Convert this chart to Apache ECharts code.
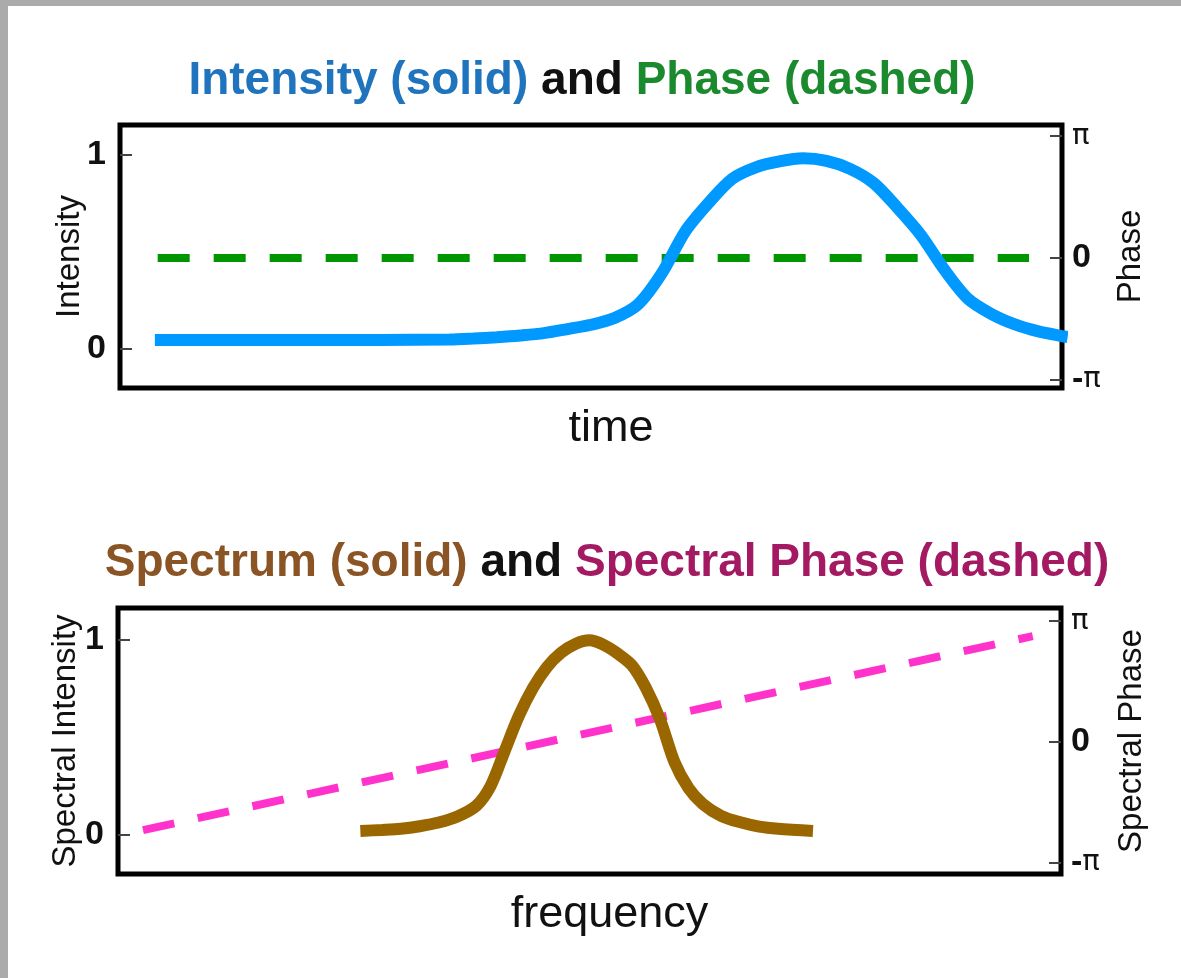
<!DOCTYPE html>
<html>
<head>
<meta charset="utf-8">
<title>Intensity and Phase / Spectrum and Spectral Phase</title>
<script src="https://cdn.jsdelivr.net/npm/echarts@6/dist/echarts.min.js"></script>
<style>
  html, body { margin: 0; padding: 0; background: #ababab; }
  #chart { width: 1181px; height: 978px; }
</style>
</head>
<body>
<div id="chart"></div>
<script>
// Temporal intensity (solid) — time in arbitrary units 0..100
const timeValues = [3.7, 20, 35, 37.5, 40, 42.5, 45, 47.5, 50, 52.5, 55, 57.5, 60, 62.5, 65, 67.5,
  70, 72.5, 75, 77.5, 80, 82.5, 85, 87.5, 90, 92.5, 95, 97.5, 100, 100.6];
const intensityValues = [0.046, 0.046, 0.049, 0.054, 0.061, 0.07, 0.082, 0.103, 0.125, 0.16, 0.23, 0.389, 0.606, 0.754, 0.878, 0.937,
  0.967, 0.983, 0.97, 0.929, 0.856, 0.73, 0.589, 0.41, 0.26, 0.181, 0.127, 0.091, 0.067, 0.062];

// Temporal phase (dashed): flat
const phaseTimes = [4.0, 96.5];
const phaseValues = [0, 0];

// Spectrum (solid) — frequency in arbitrary units 0..100
const freqValues = [25.7, 28, 30, 32, 34, 36, 38, 39.5, 41, 42.5, 44, 45.5, 47, 48.5, 50, 51.5,
  53, 54.5, 56, 57.5, 59, 60.5, 62, 64, 66, 68, 70, 73.7];
const spectrumValues = [0.021, 0.026, 0.032, 0.045, 0.064, 0.095, 0.15, 0.25, 0.43, 0.61, 0.754, 0.862, 0.935, 0.98, 0.998, 0.975,
  0.93, 0.87, 0.752, 0.59, 0.375, 0.24, 0.16, 0.097, 0.065, 0.043, 0.032, 0.021];

// Spectral phase (dashed): linear in frequency
const spectralPhaseFreqs = [2.65, 97.0];
const spectralPhaseValues = [-2.29, 2.75];

// Tick labels
const intensityTicks = [0, 1];
const phaseTicks = [-Math.PI, 0, Math.PI];

const zip = (xs, ys) => xs.map((x, i) => [x, ys[i]]);

const FONT = '"Liberation Sans", Arial, Helvetica, sans-serif';

function phaseLabel(v) {
  if (Math.abs(v) < 1e-9) return '{b|0}';
  return v > 0 ? '{p|π}' : '{b|-}{p|π}';
}

const leftAxisBase = {
  type: 'value',
  position: 'left',
  axisLine: { show: false },
  splitLine: { show: false },
  axisTick: { show: true, inside: true, length: 12, customValues: intensityTicks,
    lineStyle: { color: '#444', width: 2 } },
  axisLabel: { show: true, customValues: intensityTicks, margin: 14,
    fontFamily: FONT, fontWeight: 'bold', fontSize: 34, color: '#111' },
  nameLocation: 'middle',
  nameMoveOverlap: false,
  nameTextStyle: { fontFamily: FONT, fontSize: 33, color: '#111' }
};

const rightAxisBase = {
  type: 'value',
  position: 'right',
  axisLine: { show: false },
  splitLine: { show: false },
  axisTick: { show: true, inside: true, length: 12, customValues: phaseTicks,
    lineStyle: { color: '#444', width: 2 } },
  axisLabel: { show: true, customValues: phaseTicks, margin: 10,
    formatter: phaseLabel,
    rich: {
      b: { fontFamily: FONT, fontWeight: 'bold', fontSize: 34, color: '#111' },
      p: { fontFamily: '"DejaVu Sans", sans-serif', fontSize: 29, color: '#111' }
    } },
  nameLocation: 'middle',
  nameMoveOverlap: false,
  nameTextStyle: { fontFamily: FONT, fontSize: 33, color: '#111' }
};

const xAxisBase = {
  type: 'value',
  min: 0,
  max: 100,
  axisLine: { show: false },
  axisTick: { show: false },
  axisLabel: { show: false },
  splitLine: { show: false },
  nameLocation: 'middle',
  nameGap: 18,
  nameTextStyle: { fontFamily: FONT, fontSize: 45, color: '#111', verticalAlign: 'top',
    padding: [0, 0, 0, 40] }
};

const gridBase = { show: true, borderWidth: 5, borderColor: '#000', backgroundColor: '#fff' };

function titleRich(c1, c2) {
  const s = { fontFamily: FONT, fontWeight: 'bold', fontSize: 46 };
  return {
    a: Object.assign({ color: c1 }, s),
    k: Object.assign({ color: '#111' }, s),
    c: Object.assign({ color: c2 }, s)
  };
}

const option = {
  backgroundColor: '#ababab',
  animation: false,
  graphic: [{
    type: 'rect', z: -10, silent: true,
    shape: { x: 8, y: 6, width: 1173, height: 972 },
    style: { fill: '#fff' }
  }],
  title: [{
    text: '{a|Intensity (solid) }{k|and }{c|Phase (dashed)}',
    left: 577, top: 53, textAlign: 'center',
    textStyle: { rich: titleRich('#1f74bd', '#1b8a2e') }
  }, {
    text: '{a|Spectrum (solid) }{k|and }{c|Spectral Phase (dashed)}',
    left: 602, top: 535, textAlign: 'center',
    textStyle: { rich: titleRich('#8a5424', '#a31a62') }
  }],
  grid: [
    Object.assign({ left: 120, right: 119, top: 125, height: 263 }, gridBase),
    Object.assign({ left: 118, right: 120, top: 608, height: 266 }, gridBase)
  ],
  xAxis: [
    Object.assign({}, xAxisBase, { gridIndex: 0, name: 'time' }),
    Object.assign({}, xAxisBase, { gridIndex: 1, name: 'frequency' })
  ],
  yAxis: [
    Object.assign({}, leftAxisBase, { gridIndex: 0, min: -0.201, max: 1.155, name: 'Intensity', nameGap: 34 }),
    Object.assign({}, rightAxisBase, { gridIndex: 0, min: -3.351, max: 3.428, name: 'Phase', nameGap: 52 }),
    Object.assign({}, leftAxisBase, { gridIndex: 1, min: -0.2, max: 1.164, name: 'Spectral Intensity', nameGap: 36 }),
    Object.assign({}, rightAxisBase, { gridIndex: 1, min: -3.43, max: 3.48, name: 'Spectral Phase', nameGap: 54 })
  ],
  series: [
    {
      type: 'line', xAxisIndex: 0, yAxisIndex: 1, z: 2,
      data: zip(phaseTimes, phaseValues),
      showSymbol: false, clip: false,
      lineStyle: { color: '#009600', width: 8, type: [32, 24], cap: 'butt' }
    },
    {
      type: 'line', xAxisIndex: 0, yAxisIndex: 0, z: 3,
      data: zip(timeValues, intensityValues),
      showSymbol: false, smooth: 0.3, clip: false,
      lineStyle: { color: '#0099ff', width: 12, cap: 'butt' }
    },
    {
      type: 'line', xAxisIndex: 1, yAxisIndex: 3, z: 2,
      data: zip(spectralPhaseFreqs, spectralPhaseValues),
      showSymbol: false, clip: false,
      lineStyle: { color: '#ff33cc', width: 8, type: [32, 24], cap: 'butt' }
    },
    {
      type: 'line', xAxisIndex: 1, yAxisIndex: 2, z: 3,
      data: zip(freqValues, spectrumValues),
      showSymbol: false, smooth: 0.3, clip: false,
      lineStyle: { color: '#996600', width: 12, cap: 'butt' }
    }
  ]
};

const chart = echarts.init(document.getElementById('chart'), null, { renderer: 'canvas' });
chart.setOption(option);
</script>
</body>
</html>
